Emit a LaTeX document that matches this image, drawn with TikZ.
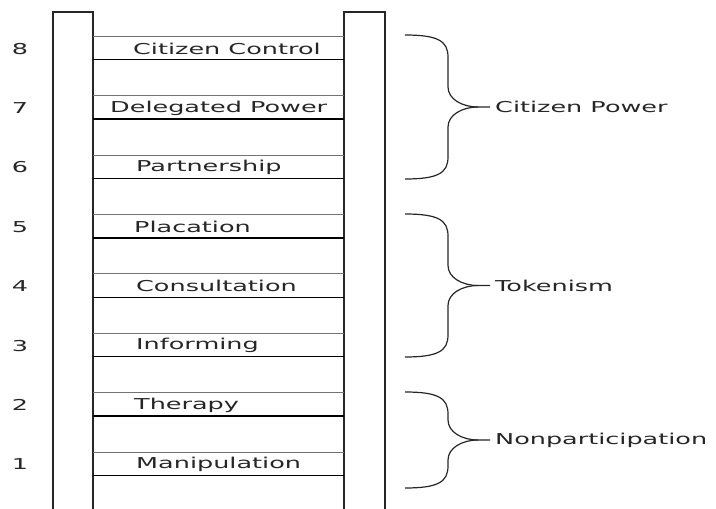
\documentclass[tikz,border=0pt]{standalone}
\usepackage{fontspec}
\newfontfamily\ladderfont[FakeStretch=1.7]{DejaVu Sans}
\usetikzlibrary{positioning}

% one curly brace from y=#1 to y=#2, label #3, node name #4
\newcommand{\ladderbrace}[4]{%
  \pgfmathsetmacro\bmid{(#1+#2)/2}
  \draw[bracepath] (405,#1) .. controls (438,#1) and (448,#1+6) .. (448,#1+22)
      -- (448,\bmid-20) .. controls (448,\bmid-8) and (462,\bmid) .. (478,\bmid)
      -- (490,\bmid);
  \draw[bracepath] (405,#2) .. controls (438,#2) and (448,#2-6) .. (448,#2-22)
      -- (448,\bmid+20) .. controls (448,\bmid+8) and (462,\bmid) .. (478,\bmid);
  \coordinate (#4tip) at (490,\bmid);
  \node[grouptext, right=5pt of #4tip] (#4) {#3};
}

\begin{document}
\begin{tikzpicture}[
    x=1pt, y=-1pt,
    rail/.style={draw=black!85, line width=1.5pt},
    rungtop/.style={draw=black!55, line width=1pt},
    rungbot/.style={draw=black, line width=1.5pt},
    rungtext/.style={anchor=west, inner sep=0pt, font=\ladderfont\fontsize{15}{18}\selectfont, text=black!85},
    numtext/.style={inner sep=0pt, font=\ladderfont\fontsize{15}{18}\selectfont, text=black!85},
    grouptext/.style={anchor=west, inner sep=0pt, font=\ladderfont\fontsize{15}{18}\selectfont, text=black!85},
    bracepath/.style={draw=black!85, line width=1.2pt}
]
\useasboundingbox (0,0) rectangle (716,509);

% rails
\draw[rail] (53,509) -- (53,12) -- (93,12) -- (93,509);
\draw[rail] (344,509) -- (344,12) -- (385,12) -- (385,509);

% rungs
\foreach \n/\lab/\lx in {1/Manipulation/136, 2/Therapy/134, 3/Informing/136,
    4/Consultation/136, 5/Placation/134, 6/Partnership/136,
    7/Delegated Power/110, 8/Citizen Control/133} {
  \pgfmathsetmacro\ty{452-(\n-1)*59.4}
  \draw[rungtop] (93,\ty) -- (344,\ty);
  \draw[rungbot] (93,\ty+23.5) -- (344,\ty+23.5);
  \node[rungtext] (rung\n) at (\lx,\ty+12.5) {\lab};
  \node[numtext] (num\n) at (20,\ty+12.5) {\n};
}

% groups
\ladderbrace{35}{179}{Citizen Power}{power}
\ladderbrace{214}{357}{Tokenism}{token}
\ladderbrace{392}{488}{Nonparticipation}{nonpart}
\end{tikzpicture}
\end{document}
